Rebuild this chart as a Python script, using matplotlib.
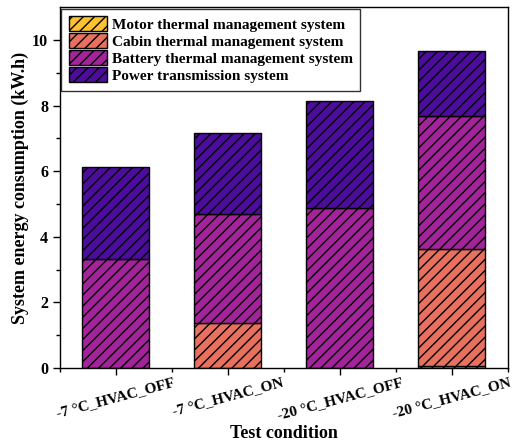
import numpy as np
import matplotlib
import matplotlib.pyplot as plt

matplotlib.use('Agg')

# --- DONNEES ---
conditions = ['-7 °C_HVAC_OFF', '-7 °C_HVAC_ON', '-20 °C_HVAC_OFF', '-20 °C_HVAC_ON']
motor = [0.0, 0.0, 0.0, 0.05]
cabin = [0.0, 1.37, 0.0, 3.58]
battery = [3.33, 3.33, 4.87, 4.05]
power = [2.80, 2.45, 3.28, 1.99]

labels = ['Motor thermal management system',
          'Cabin thermal management system',
          'Battery thermal management system',
          'Power transmission system']
colors = ['#FDC030', '#E8705F', '#A3249A', '#4C0C9C']

plt.rcParams['font.family'] = ['Liberation Serif', 'DejaVu Serif']
plt.rcParams['font.weight'] = 'bold'
plt.rcParams['hatch.linewidth'] = 1.0

fig = plt.figure(figsize=(5.16, 4.47), dpi=100)
ax = fig.add_axes([0.116, 0.177, 0.868, 0.807])

x = np.arange(1, len(conditions) + 1)
bottom = np.zeros(len(conditions))
for vals, lab, col in zip([motor, cabin, battery, power], labels, colors):
    ax.bar(x, vals, width=0.6, bottom=bottom, color=col, edgecolor='black',
           linewidth=1.0, hatch='///', label=lab)
    bottom += np.array(vals)

ax.set_xlim(0.5, 4.5)
ax.set_ylim(0, 11)
ax.set_xticks(x)
ax.set_xticks(np.arange(0.5, 5, 1), minor=True)
ax.set_xticklabels(conditions, rotation=15, fontsize=11, fontweight='bold')
ax.set_yticks([0, 2, 4, 6, 8, 10])
ax.set_yticks([1, 3, 5, 7, 9], minor=True)
ax.tick_params(axis='y', labelsize=11.5)
ax.tick_params(axis='x', pad=1)
ax.tick_params(which='major', length=5, width=1)
ax.tick_params(which='minor', length=3, width=1)
for s in ax.spines.values():
    s.set_linewidth(1.0)

ax.set_xlabel('Test condition', fontsize=13, fontweight='bold', labelpad=2)
ax.set_ylabel('System energy consumption (kW.h)', fontsize=13, fontweight='bold',
              labelpad=2)

ax.legend(loc='upper left', fontsize=11, frameon=True, fancybox=False,
          edgecolor='black', handlelength=2.5, handleheight=1.1,
          borderaxespad=0.1, labelspacing=0.1, handletextpad=0.3,
          borderpad=0.5)

fig.savefig('out.png', dpi=100)
